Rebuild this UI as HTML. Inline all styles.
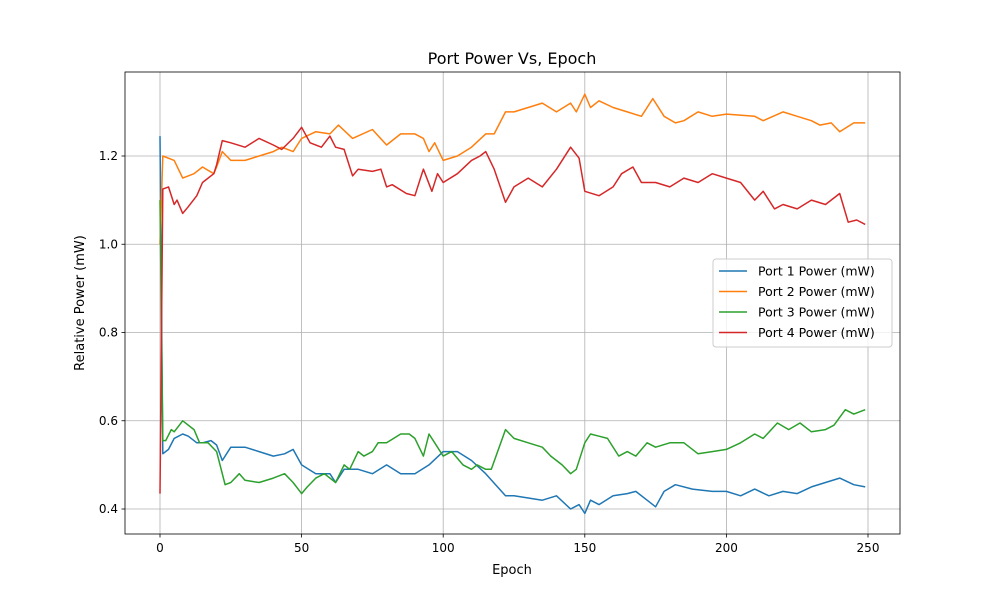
<!DOCTYPE html>
<html><head><meta charset="utf-8"><style>
body{margin:0;background:#fff;font-family:"Liberation Sans","DejaVu Sans",sans-serif}
svg text{font-family:"DejaVu Sans","Liberation Sans",sans-serif}
</style></head><body>
<svg id="chart" width="1000" height="600" viewBox="0 0 1000 600" xmlns="http://www.w3.org/2000/svg">
<rect width="1000" height="600" fill="#fff"/>
<g id="grid"></g>
<g id="series"></g>
<rect x="125" y="72" width="775" height="462" fill="none" stroke="#000" stroke-width="0.8"/>
<g id="axes"></g>
<text x="512" y="64" font-size="16" text-anchor="middle">Port Power Vs, Epoch</text>
<text x="512" y="574" font-size="13" text-anchor="middle">Epoch</text>
<text transform="translate(84,303) rotate(-90)" font-size="13" text-anchor="middle">Relative Power (mW)</text>
<g id="legend"></g>
</svg>
<script>
const xTicks=[0,50,100,150,200,250];
const yTicks=[0.4,0.6,0.8,1.0,1.2];
const seriesNames=["Port 1 Power (mW)","Port 2 Power (mW)","Port 3 Power (mW)","Port 4 Power (mW)"];
const p1x=[0,1,3,5,8,10,13,15,18,20,22,25,30,35,40,44,47,50,55,60,62,65,70,75,80,85,90,95,100,105,110,115,122,125,130,135,140,145,148,150,152,155,160,165,168,172,175,178,182,188,195,200,205,210,215,220,225,230,235,240,245,249];
const p1y=[1.245,0.525,0.535,0.56,0.57,0.565,0.55,0.55,0.555,0.545,0.51,0.54,0.54,0.53,0.52,0.525,0.535,0.50,0.48,0.48,0.46,0.49,0.49,0.48,0.50,0.48,0.48,0.50,0.53,0.53,0.51,0.48,0.43,0.43,0.425,0.42,0.43,0.40,0.41,0.39,0.42,0.41,0.43,0.435,0.44,0.42,0.405,0.44,0.455,0.445,0.44,0.44,0.43,0.445,0.43,0.44,0.435,0.45,0.46,0.47,0.455,0.45];
const p2x=[0,1,5,8,12,15,19,20,22,25,30,35,40,43,47,50,55,60,63,68,75,80,85,90,93,95,97,100,105,110,115,118,122,125,130,135,140,145,147,150,152,155,160,165,170,174,178,182,185,190,195,200,210,213,220,225,230,233,237,240,245,249];
const p2y=[1.0,1.2,1.19,1.15,1.16,1.175,1.16,1.175,1.21,1.19,1.19,1.20,1.21,1.22,1.21,1.24,1.255,1.25,1.27,1.24,1.26,1.225,1.25,1.25,1.24,1.21,1.23,1.19,1.20,1.22,1.25,1.25,1.30,1.30,1.31,1.32,1.30,1.32,1.30,1.34,1.31,1.325,1.31,1.30,1.29,1.33,1.29,1.275,1.28,1.30,1.29,1.295,1.29,1.28,1.30,1.29,1.28,1.27,1.275,1.255,1.275,1.275];
const p3x=[0,1,2,4,5,8,12,14,17,20,23,25,28,30,35,40,44,47,50,52,55,58,62,65,67,70,72,75,77,80,85,88,90,93,95,97,100,103,107,110,112,115,117,122,125,130,135,138,142,145,147,150,152,155,158,162,165,168,172,175,180,185,190,195,200,205,210,213,218,222,226,230,235,238,242,245,249];
const p3y=[1.1,0.555,0.555,0.58,0.575,0.60,0.58,0.55,0.55,0.53,0.455,0.46,0.48,0.465,0.46,0.47,0.48,0.46,0.435,0.45,0.47,0.48,0.46,0.50,0.49,0.53,0.52,0.53,0.55,0.55,0.57,0.57,0.56,0.52,0.57,0.55,0.52,0.53,0.50,0.49,0.50,0.49,0.49,0.58,0.56,0.55,0.54,0.52,0.50,0.48,0.49,0.55,0.57,0.565,0.56,0.52,0.53,0.52,0.55,0.54,0.55,0.55,0.525,0.53,0.535,0.55,0.57,0.56,0.595,0.58,0.595,0.575,0.58,0.59,0.625,0.615,0.625];
const p4x=[0,1,3,5,6,8,10,13,15,19,20,22,25,30,35,40,43,47,50,53,57,60,62,65,68,70,75,78,80,82,87,90,92,93,96,98,100,105,110,113,115,118,122,125,130,135,140,145,148,150,155,160,163,167,170,175,180,185,190,195,200,205,210,213,217,220,225,230,235,240,243,246,249];
const p4y=[0.435,1.125,1.13,1.09,1.10,1.07,1.085,1.11,1.14,1.16,1.18,1.235,1.23,1.22,1.24,1.225,1.215,1.24,1.265,1.23,1.22,1.245,1.22,1.215,1.155,1.17,1.165,1.17,1.13,1.135,1.115,1.11,1.15,1.17,1.12,1.16,1.14,1.16,1.19,1.20,1.21,1.17,1.095,1.13,1.15,1.13,1.17,1.22,1.195,1.12,1.11,1.13,1.16,1.175,1.14,1.14,1.13,1.15,1.14,1.16,1.15,1.14,1.10,1.12,1.08,1.09,1.08,1.10,1.09,1.115,1.05,1.055,1.045];
const colors=["#1f77b4","#ff7f0e","#2ca02c","#d62728"];
const NS="http://www.w3.org/2000/svg";
const xs=v=>160+v*(868-160)/250;
const ys=v=>509-(v-0.4)*(509-156)/0.8;
function mk(tag,attrs,parent){const e=document.createElementNS(NS,tag);for(const k in attrs)e.setAttribute(k,attrs[k]);parent.appendChild(e);return e;}
const grid=document.getElementById('grid'),axes=document.getElementById('axes');
xTicks.forEach(t=>{const x=xs(t);
 let g=mk('line',{x1:x,x2:x,y1:72,y2:534,stroke:'#b0b0b0','stroke-width':0.8},grid);
 
 let l=mk('line',{x1:x,x2:x,y1:534,y2:537.5,stroke:'#000','stroke-width':0.8},axes);
 
 let tx=mk('text',{x:x,y:552,'font-size':12,'text-anchor':'middle'},axes);tx.textContent=t;
 });
yTicks.forEach(t=>{const y=ys(t);
 let g=mk('line',{x1:125,x2:900,y1:y,y2:y,stroke:'#b0b0b0','stroke-width':0.8},grid);
 
 let l=mk('line',{x1:121.5,x2:125,y1:y,y2:y,stroke:'#000','stroke-width':0.8},axes);
 
 let tx=mk('text',{x:118,y:y+4,'font-size':12,'text-anchor':'end'},axes);tx.textContent=t.toFixed(1);
 });
const ser=document.getElementById('series');
[[p1x,p1y],[p2x,p2y],[p3x,p3y],[p4x,p4y]].forEach((s,i)=>{
 const d=s[0].map((v,j)=>(j?'L':'M')+xs(v).toFixed(1)+','+ys(s[1][j]).toFixed(1)).join('');
 const p=mk('path',{d:d,fill:'none',stroke:colors[i],'stroke-width':1.5,'stroke-linejoin':'round'},ser);
 });
const lg=document.getElementById('legend');
let box=mk('rect',{x:713,y:259,width:179,height:88,rx:3,fill:'#fff','fill-opacity':0.8,stroke:'#ccc'},lg);

seriesNames.forEach((n,i)=>{const y=271+i*20.5;
 let l=mk('line',{x1:719,x2:747,y1:y,y2:y,stroke:colors[i],'stroke-width':1.5},lg);
 
 let t=mk('text',{x:758,y:y+4.5,'font-size':12.5},lg);t.textContent=n;
 });
</script>
</body></html>
